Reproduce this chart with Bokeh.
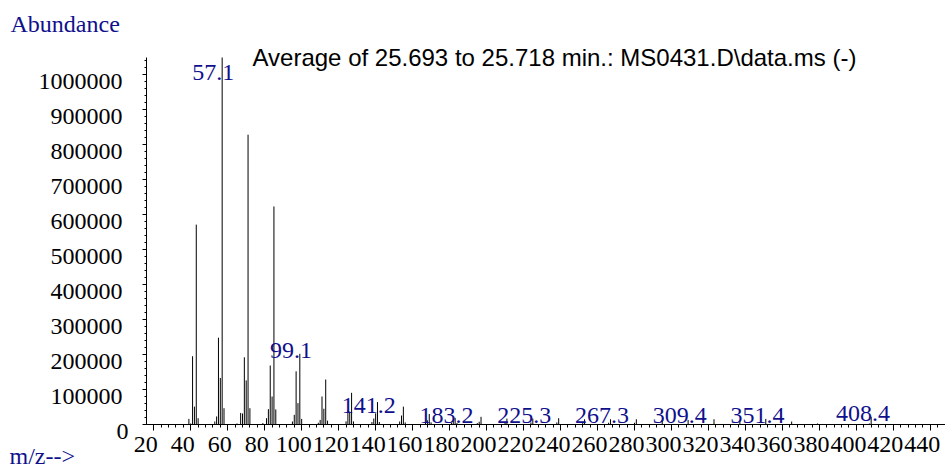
from bokeh.plotting import figure
from bokeh.models import ColumnDataSource, FixedTicker, LabelSet, Range1d
from bokeh.core.properties import value
from bokeh.embed import file_html
from bokeh.resources import INLINE

# ---- data ----
mz = [39, 40, 41, 42, 43, 44, 53, 54, 55, 56, 57, 58, 65, 67, 68, 69, 70, 71, 72,
      79, 81, 82, 83, 84, 85, 86, 95, 96, 97, 98, 99, 100, 109, 110, 111, 112, 113, 114,
      124, 125, 126, 127, 128, 138, 139, 140, 141, 142, 153, 154, 155, 156,
      167, 168, 169, 170, 181, 182, 183, 184, 195, 196, 197, 210, 211, 224, 225,
      238, 239, 252, 253, 266, 267, 280, 281, 295, 309, 323, 337, 351, 365, 379, 407, 408]
abundance = [16000, 3000, 195000, 51000, 571000, 18000, 8500, 23000, 248000, 133000, 1050000, 46500,
             3000, 33000, 31500, 192000, 126000, 828000, 46500,
             4000, 18000, 43800, 168500, 80000, 623000, 43000, 8500, 27600, 152000, 61000, 202000, 16000,
             5000, 13000, 80000, 45000, 128500, 11000,
             9000, 40000, 37000, 90500, 9000, 7000, 17000, 32000, 64000, 7000,
             8600, 25700, 51000, 6000,
             6000, 12000, 30000, 6000, 5000, 10000, 19000, 4000, 4000, 8000, 22000, 5000, 17000, 6000, 17000,
             6000, 18000, 4000, 15000, 5000, 15000, 5000, 15000, 13000, 13000, 15000, 12000, 16000, 8500, 3000, 3000, 22000]

peak_mz = [57.1, 99.1, 141.2, 183.2, 225.3, 267.3, 309.4, 351.4, 408.4]
peak_text = ["57.1", "99.1", "141.2", "183.2", "225.3", "267.3", "309.4", "351.4", "408.4"]
peak_label_abund = [985000, 191000, 34000, 3000, 5700, 3000, 3000, 3000, 11400]

x_ticks = [20, 40, 60, 80, 100, 120, 140, 160, 180, 200, 220, 240, 260, 280, 300,
           320, 340, 360, 380, 400, 420, 440]
x_tick_labels = [str(t) for t in x_ticks]
y_ticks = [0, 100000, 200000, 300000, 400000, 500000, 600000, 700000, 800000, 900000, 1000000]
y_tick_labels = [str(t) for t in y_ticks]

title_text = "Average of 25.693 to 25.718 min.: MS0431.D\\data.ms (-)"
y_title = "Abundance"
x_title = "m/z-->"

X_START, X_END = 16.08, 448.2
Y_START, Y_END = 0, 1048571

SERIF = "Liberation Serif"
SANS = "Liberation Sans"
NAVY = "#10108c"

p = figure(width=945, height=468, title=None,
           x_range=Range1d(X_START, X_END), y_range=Range1d(Y_START, Y_END),
           output_backend="svg", toolbar_location=None,
           min_border_left=146, min_border_right=0, min_border_top=57, min_border_bottom=44)
p.outline_line_color = None
p.grid.visible = False
p.background_fill_color = "white"
p.border_fill_color = "white"

src = ColumnDataSource(dict(mz=mz, abund=abundance))
p.segment(x0="mz", y0=0, x1="mz", y1="abund", source=src, line_color="black", line_width=1)

# axes (ticks from Bokeh; the tick texts are drawn as text glyphs below)
xa = p.xaxis[0]
xa.ticker = FixedTicker(ticks=x_ticks, minor_ticks=list(range(16, 449, 4)))
xa.major_tick_in = 0
xa.major_tick_out = 6
xa.minor_tick_in = 0
xa.minor_tick_out = 3
ya = p.yaxis[0]
ya.ticker = FixedTicker(ticks=y_ticks, minor_ticks=list(range(0, 1048572, 20000)))
ya.major_tick_in = 0
ya.major_tick_out = 4
ya.minor_tick_in = 0
ya.minor_tick_out = 2
for ax in (xa, ya):
    ax.axis_line_color = "black"
    ax.major_tick_line_color = "black"
    ax.minor_tick_line_color = "black"
    ax.major_label_text_color = None
    ax.major_label_text_font_size = "8px"
    ax.major_label_standoff = 0

txt = dict(text_font=value(SERIF), text_font_size="24px", text_baseline="alphabetic", level="overlay")

xsrc = ColumnDataSource(dict(x=x_ticks, text=x_tick_labels))
p.text(x="x", y=Y_START, text="text", source=xsrc, x_offset=-8, y_offset=20,
       text_align="center", text_color="black", **txt)

ysrc = ColumnDataSource(dict(y=y_ticks[1:], text=y_tick_labels[1:]))
p.text(x=X_START, y="y", text="text", source=ysrc, x_offset=-24, y_offset=7,
       text_align="right", text_color="black", **txt)
p.text(x=[X_START], y=[y_ticks[0]], text=[y_tick_labels[0]], x_offset=-18, y_offset=7,
       text_align="right", text_color="black", **txt)

p.text(x=[X_START], y=[Y_END], text=[y_title], x_offset=-136, y_offset=-34,
       text_align="left", text_color=NAVY, **txt)
p.text(x=[X_START], y=[Y_START], text=[x_title], x_offset=-137, y_offset=31,
       text_align="left", text_color=NAVY, **txt)

# chart title (overlay so that it is not clipped at the frame top)
p.text(x=[X_START], y=[Y_END], text=[title_text], x_offset=106, y_offset=0,
       text_align="left", text_baseline="alphabetic", text_font=value(SANS),
       text_font_size="24px", text_color="black", level="overlay")

psrc = ColumnDataSource(dict(x=peak_mz, y=peak_label_abund, text=peak_text))
p.add_layout(LabelSet(x="x", y="y", text="text", source=psrc, x_offset=-9,
                      text_align="center", text_baseline="alphabetic",
                      text_font=value(SERIF), text_font_size="24px", text_color=NAVY))

open("out.html", "w").write(file_html(p, INLINE))
